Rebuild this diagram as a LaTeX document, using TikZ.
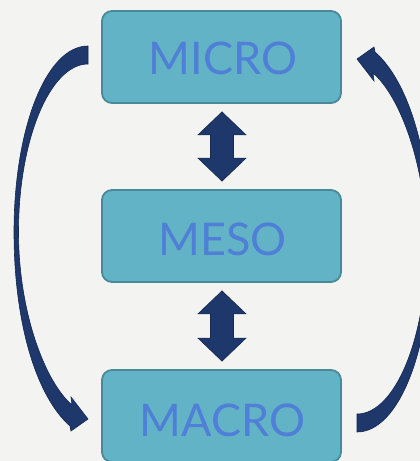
\documentclass[tikz,border=0pt]{standalone}
\usepackage{fontspec}
\setmainfont{Lato}
\usetikzlibrary{calc}
\definecolor{bg}{RGB}{243,243,241}
\definecolor{boxfill}{RGB}{99,179,198}
\definecolor{boxline}{RGB}{74,138,152}
\definecolor{txt}{RGB}{79,127,214}
\definecolor{navy}{RGB}{30,56,108}
\definecolor{navyd}{RGB}{20,40,80}
\begin{document}
\begin{tikzpicture}[x=1pt,y=-1pt,
  blk/.style={draw=boxline, line width=1.8pt, fill=boxfill, rounded corners=10pt,
    minimum width=239pt, minimum height=92pt, inner sep=0pt},
  lbl/.style={text=txt, font=\fontsize{45}{45}\selectfont, inner sep=0pt},
  fat/.style={fill=navy, draw=navyd, line width=0.6pt, line join=miter},
  pics/bentarrow/.style={code={
    \filldraw[fat] (88,46) .. controls (46,46) and (14,129) .. (14,232)
      .. controls (14,320) and (35,395) .. (70,426)
      -- (71,431) -- (88,419) -- (71,397) -- (72,405)
      .. controls (45,382) and (18.5,312) .. (18.5,232)
      .. controls (18.5,140) and (50,64) .. (88,64) -- cycle;
  }},
]
\fill[bg] (0,0) rectangle (420,461);
\useasboundingbox (0,0) rectangle (420,461);

\node[blk] (micro) at (221.5,57) {};
\node[blk] (meso) at (221.5,236) {};
\node[blk] (macro) at (221.5,416) {};

\node[lbl] (microlbl) at ($(micro.center)+(1.5,1.5)$) {MICRO};
\node[lbl] (mesolbl) at ($(meso.center)+(1,3.5)$) {MESO};
\node[lbl] (macrolbl) at ($(macro.center)+(1,4)$) {MACRO};

% double block arrows
\coordinate (t1) at ($(micro.south)+(0.5,8)$);
\coordinate (b1) at ($(meso.north)+(0.5,-8)$);
\filldraw[fat] (t1) -- ++(24,23) -- ++(-12.5,0) -- ($(b1)+(11.5,-23)$) -- ++(12.5,0)
  -- (b1) -- ++(-24,-23) -- ++(12.5,0) -- ($(t1)+(-11.5,23)$) -- ++(-12.5,0) -- cycle;
\coordinate (t2) at ($(meso.south)+(0.5,8)$);
\coordinate (b2) at ($(macro.north)+(0.5,-8)$);
\filldraw[fat] (t2) -- ++(24,23) -- ++(-12.5,0) -- ($(b2)+(11.5,-23)$) -- ++(12.5,0)
  -- (b2) -- ++(-24,-23) -- ++(12.5,0) -- ($(t2)+(-11.5,23)$) -- ++(-12.5,0) -- cycle;

% curved arrows
\pic (leftarrow) at (0,0) {bentarrow};
\pic[rotate=180] (rightarrow) at (445,478) {bentarrow};
\end{tikzpicture}
\end{document}
